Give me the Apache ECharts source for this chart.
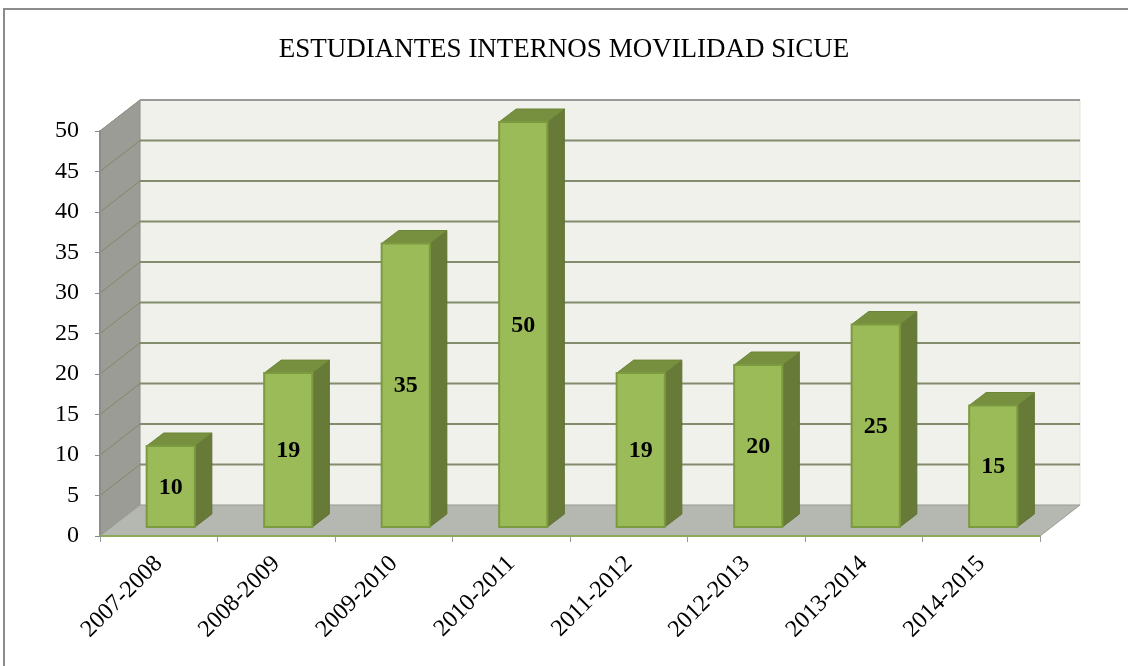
<!DOCTYPE html>
<html>
<head>
<meta charset="utf-8">
<script src="https://cdn.jsdelivr.net/npm/echarts@6/dist/echarts.min.js"></script>
<style>
  html, body { margin: 0; padding: 0; background: #fff; }
  #chart { width: 1128px; height: 666px; }
</style>
</head>
<body>
<div id="chart"></div>
<script>
// datos del gráfico
var categorias = ['2007-2008', '2008-2009', '2009-2010', '2010-2011', '2011-2012', '2012-2013', '2013-2014', '2014-2015'];
var estudiantes = [10, 19, 35, 50, 19, 20, 25, 15];
var marcasY = [5, 10, 15, 20, 25, 30, 35, 40, 45, 50];

var chart = echarts.init(document.getElementById('chart'));

// profundidad 3D (en píxeles)
var FONDO = [40, -31];   // desplazamiento de la pared del fondo
var BARRA_DELANTE = [12, -9];
var BARRA_LADO = [17, -13];
var fuente = '"Liberation Serif", "DejaVu Serif", serif';

// paredes y suelo
function pintarPaneles(params, api) {
    var cs = params.coordSys;
    var x0 = cs.x, y0 = cs.y, x1 = cs.x + cs.width, y1 = cs.y + cs.height;
    var dx = FONDO[0], dy = FONDO[1];
    return {
        type: 'group',
        children: [
            { // pared del fondo
                type: 'rect',
                shape: { x: x0 + dx, y: y0 + dy, width: cs.width, height: cs.height },
                style: { fill: '#eff1ea', stroke: '#e2e4dc', lineWidth: 1 }
            },
            { // pared lateral
                type: 'polygon',
                shape: { points: [[x0, y1], [x0, y0], [x0 + dx, y0 + dy], [x0 + dx, y1 + dy]] },
                style: { fill: '#9a9c95', stroke: '#8e908a', lineWidth: 1 }
            },
            { // suelo
                type: 'polygon',
                shape: { points: [[x0, y1], [x1, y1], [x1 + dx, y1 + dy], [x0 + dx, y1 + dy]] },
                style: { fill: '#b5b7b1', stroke: '#9a9c96', lineWidth: 1 }
            }
        ]
    };
}

// líneas de división en el fondo y en el lateral
function pintarLineas(params, api) {
    var cs = params.coordSys;
    var v = api.value(0);
    var y = api.coord([0, v])[1];
    var color = v === 50 ? '#9a9a9a' : '#838c6c';
    return {
        type: 'group',
        children: [
            {
                type: 'line',
                shape: { x1: cs.x + FONDO[0], y1: y + FONDO[1], x2: cs.x + cs.width + FONDO[0], y2: y + FONDO[1] },
                style: { stroke: color, lineWidth: 2 }
            },
            {
                type: 'line',
                shape: { x1: cs.x, y1: y, x2: cs.x + FONDO[0], y2: y + FONDO[1] },
                style: { stroke: v === 50 ? '#8e908a' : '#7f8a66', lineWidth: 1 }
            }
        ]
    };
}

// barras en 3D
function pintarBarra(params, api) {
    var i = api.value(0);
    var v = api.value(1);
    var top = api.coord([i, v]);
    var base = api.coord([i, 0]);
    var ancho = api.size([1, 0])[0] * 0.41;
    var xa = top[0] - ancho / 2 + BARRA_DELANTE[0];
    var xb = xa + ancho;
    var ya = top[1] + BARRA_DELANTE[1];
    var yb = base[1] + BARRA_DELANTE[1];
    var sx = BARRA_LADO[0], sy = BARRA_LADO[1];
    return {
        type: 'group',
        children: [
            { // cara lateral
                type: 'polygon',
                shape: { points: [[xb, ya], [xb + sx, ya + sy], [xb + sx, yb + sy], [xb, yb]] },
                style: { fill: '#677a37', stroke: '#5f7233', lineWidth: 1 }
            },
            { // cara superior
                type: 'polygon',
                shape: { points: [[xa, ya], [xa + sx, ya + sy], [xb + sx, ya + sy], [xb, ya]] },
                style: { fill: '#77903f', stroke: '#6c8538', lineWidth: 1 }
            },
            { // cara frontal
                type: 'rect',
                shape: { x: xa, y: ya, width: ancho, height: yb - ya },
                style: { fill: '#9bbb59', stroke: '#7c9a40', lineWidth: 2 }
            },
            {
                type: 'text',
                style: {
                    text: String(v),
                    x: (xa + xb) / 2,
                    y: (ya + yb) / 2 + 1,
                    align: 'center',
                    verticalAlign: 'middle',
                    fill: '#000',
                    font: 'bold 24px ' + fuente
                }
            }
        ]
    };
}

var option = {
    animation: false,
    title: {
        text: 'ESTUDIANTES INTERNOS MOVILIDAD SICUE',
        left: 'center',
        top: 31,
        textStyle: { fontFamily: fuente, fontSize: 27, fontWeight: 'normal', color: '#000' }
    },
    graphic: [{
        type: 'rect',
        shape: { x: 4, y: 9, width: 1200, height: 700 },
        style: { fill: null, stroke: '#8c8c8c', lineWidth: 2 }
    }],
    grid: { left: 100, top: 131, right: 88, bottom: 130 },
    xAxis: {
        type: 'category',
        data: categorias,
        axisLine: { show: true, lineStyle: { color: '#8fa95a', width: 2 } },
        axisTick: { show: true, length: 6, lineStyle: { color: '#999' } },
        axisLabel: { rotate: 45, margin: 24, fontFamily: fuente, fontSize: 24, color: '#000' },
        splitLine: { show: false },
        z: 10
    },
    yAxis: {
        type: 'value',
        min: 0,
        max: 50,
        interval: 5,
        axisLine: { show: true, lineStyle: { color: '#8c8c8c', width: 2 } },
        axisTick: { show: true, length: 5, lineStyle: { color: '#8c8c8c' } },
        axisLabel: { margin: 21, fontFamily: fuente, fontSize: 24, color: '#000' },
        splitLine: { show: false },
        z: 10
    },
    series: [
        {
            type: 'custom',
            renderItem: pintarPaneles,
            data: [[0, 0]],
            z: 1,
            silent: true
        },
        {
            type: 'custom',
            renderItem: pintarLineas,
            data: marcasY.map(function (v) { return [v]; }),
            encode: { y: 0 },
            z: 2,
            silent: true
        },
        {
            type: 'custom',
            renderItem: pintarBarra,
            data: estudiantes.map(function (v, i) { return [i, v]; }),
            encode: { x: 0, y: 1 },
            z: 3
        }
    ]
};

chart.setOption(option);
</script>
</body>
</html>
